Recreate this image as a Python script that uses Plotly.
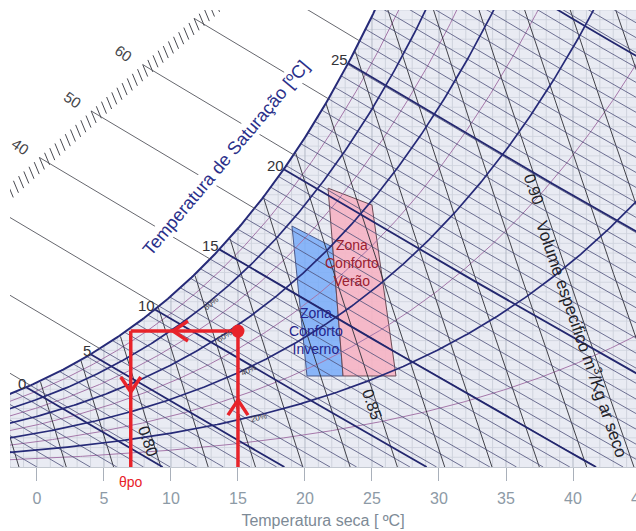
import numpy as np
import plotly.graph_objects as go

# ---------------- data (levels, labels, positions) ----------------
x_ticks = [0, 5, 10, 15, 20, 25, 30, 35, 40, 45]
rh_major = [0.2, 0.4, 0.6, 0.8]
rh_minor = [0.1, 0.3, 0.5, 0.7, 0.9]
rh_label_text = ["20%", "40%", "60%", "80%"]
rh_label_T = [16.6, 15.8, 14.0, 13.0]
sat_temps = [0, 5, 10, 15, 20, 25, 30, 35]          # thick saturation-temperature lines
sat_label_temps = [0, 5, 10, 15, 20, 25]
h_thin = list(range(-4, 114, 2))                      # enthalpy lines kJ/kg
h_ext = [10, 20, 30, 40, 50, 60, 70, 80]              # extension lines to the oblique scale
h_scale_ticks = list(range(28, 80))
h_scale_labels = [40, 50, 60]
scale_T = [0.22, 12.16]                                # oblique scale base line
scale_W = [15.94, 23.34]
vol_levels = [0.77, 0.78, 0.79, 0.80, 0.81, 0.82, 0.83, 0.84, 0.85,
              0.86, 0.87, 0.88, 0.89, 0.90, 0.91, 0.92, 0.93]
vol_label_text = ["0.80", "0.85", "0.90"]
vol_label_v = [0.80, 0.85, 0.90]
vol_label_W = [1.3, 3.2, 14.3]
vol_title_W = 6.6
summer_T = [21.72, 25.0, 26.79, 22.84]
summer_W = [14.34, 13.47, 4.68, 4.68]
winter_T = [19.03, 22.07, 22.84, 20.15]
winter_W = [12.39, 11.31, 4.68, 4.68]
summer_label = (23.5, 10.5)
winter_label = (20.8, 6.99)
state_T, state_W = 15.0, 6.99
dew_T = 7.0
arrow_up = (15.0, 3.44)
arrow_left = (10.15, 6.99)
arrow_down = (7.0, 3.86)

# ---------------- layout constants ----------------
W_PX, H_PX = 636, 531
ML, MR, MT, MB = 10, 0, 10, 64
XR = [-2.01, 44.7]
YR = [0.0, 23.5]
px_T = (W_PX - ML - MR) / (XR[1] - XR[0])
px_W = (H_PX - MT - MB) / (YR[1] - YR[0])
P_CHART = 88.0
P_STD = 101.325
FONT = "Liberation Sans, Arial, sans-serif"


def p_ws(T):
    return 0.61094 * np.exp(17.625 * T / (T + 243.04))


def w_rh(T, rh, P=P_CHART):
    p = rh * p_ws(T)
    return 622.0 * p / (P - p)


def w_sat(T, P=P_CHART):
    return w_rh(T, 1.0, P)


def h_of(T, W):
    return 1.006 * T + W / 1000.0 * (2501 + 1.86 * T)


def w_h(T, h):
    return 1000.0 * (h - 1.006 * T) / (2501 + 1.86 * T)


def T_of_v(v, W):
    return v * P_STD / (0.287042 * (1 + 1.6078 * W / 1000.0)) - 273.15


Tg = np.linspace(-20, 50, 7001)
hs_g = h_of(Tg, w_sat(Tg))
ws_g = w_sat(Tg)


def T_sat_h(h):
    return float(np.interp(h, hs_g, Tg))


def T_dew(W):
    return float(np.interp(W, ws_g, Tg))


def base_W(T):
    s = (scale_W[1] - scale_W[0]) / (scale_T[1] - scale_T[0])
    return scale_W[0] + s * (T - scale_T[0])


def T_base_h(h):
    d = w_h(Tg, h) - base_W(Tg)
    return float(np.interp(0.0, d[::-1], Tg[::-1]))


def join(segs):
    xs, ys = [], []
    for sx, sy in segs:
        xs += list(sx) + [None]
        ys += list(sy) + [None]
    return xs, ys


fig = go.Figure()


def add_lines(segs, color, width, dash=None):
    xs, ys = join(segs)
    fig.add_trace(go.Scatter(x=xs, y=ys, mode="lines", hoverinfo="skip",
                             line=dict(color=color, width=width, dash=dash),
                             showlegend=False))


# background region under the saturation curve
Tf = np.linspace(XR[0] - 0.2, XR[1] + 0.2, 400)
Wf = np.minimum(w_sat(Tf), YR[1] + 0.2)
fig.add_trace(go.Scatter(x=list(Tf) + [Tf[-1], Tf[0]], y=list(Wf) + [0, 0],
                         fill="toself", fillcolor="#e9ebf3", mode="none",
                         hoverinfo="skip", showlegend=False))

# grid
minor_v, major_v = [], []
for T in range(-2, 45):
    seg = ([T, T], [0, float(w_sat(T))])
    (major_v if T % 5 == 0 else minor_v).append(seg)
hor = []
for k in range(1, 48):
    W = 0.5 * k
    hor.append(([T_dew(W), XR[1] + 1], [W, W]))
add_lines(hor, "#d3d7e1", 1)
add_lines(minor_v, "#cfd3dd", 1)
add_lines(major_v, "#b3b9c6", 1)

# comfort zones
fig.add_trace(go.Scatter(x=winter_T + [winter_T[0]], y=winter_W + [winter_W[0]],
                         fill="toself", fillcolor="rgba(120,172,248,0.85)", mode="lines",
                         line=dict(color="#4a5a8a", width=1), hoverinfo="skip", showlegend=False))
fig.add_trace(go.Scatter(x=summer_T + [summer_T[0]], y=summer_W + [summer_W[0]],
                         fill="toself", fillcolor="rgba(246,180,196,0.9)", mode="lines",
                         line=dict(color="#6a4a55", width=1), hoverinfo="skip", showlegend=False))

Tl = np.linspace(XR[0] - 0.5, XR[1] + 0.5, 300)
# minor RH curves
add_lines([(Tl, w_rh(Tl, r)) for r in rh_minor], "#a577aa", 1)

# specific volume lines
vol_segs = []
Wv = np.linspace(0, 26, 400)
for v in vol_levels:
    Tv = T_of_v(v, Wv)
    ok = Wv <= w_sat(Tv)
    idx = np.argmax(~ok) if (~ok).any() else len(Wv)
    if idx > 0:
        vol_segs.append((Tv[:idx], Wv[:idx]))
add_lines(vol_segs, "#2e2e36", 0.9)

# thin enthalpy lines
hseg = []
for h in h_thin:
    t0 = T_sat_h(h)
    t1 = h / 1.006
    tt = np.linspace(t0, t1, 25)
    hseg.append((tt, w_h(tt, h)))
add_lines(hseg, "#4c4f78", 0.8)

# thick saturation temperature lines
tseg = []
h_thick = [float(h_of(T, w_sat(T, P_STD))) for T in sat_temps]
for h in h_thick:
    t0 = T_sat_h(h)
    tt = np.linspace(t0, h / 1.006, 25)
    tseg.append((tt, w_h(tt, h)))
add_lines(tseg, "#22266e", 1.8)

# major RH curves and saturation curve
add_lines([(Tl, w_rh(Tl, r)) for r in rh_major], "#262a78", 1.7)
add_lines([(Tl, w_sat(Tl))], "#262a78", 2)

# extension lines to the oblique scale
eseg = []
for h in h_ext:
    tb = T_base_h(h)
    ts = T_sat_h(h)
    tt = np.linspace(tb, ts, 30)
    eseg.append((tt, w_h(tt, h)))
add_lines(eseg, "#55565e", 0.9)

# scale ticks
tk = []
for h in h_scale_ticks:
    tb = T_base_h(h)
    wb = float(w_h(tb, h))
    tk.append(([tb, tb + 5 / px_T], [wb, wb - 12 / px_W]))
add_lines(tk, "#4a4b52", 1)

# red construction
RED = "#e8232a"
add_lines([([state_T, state_T], [0, state_W]),
           ([state_T, dew_T], [state_W, state_W]),
           ([dew_T, dew_T], [state_W, 0])], RED, 3.5)


def chevron(apex, d):
    back, lat = 15.0, 10.0
    dx, dy = d
    px_, py_ = -dy, dx
    pts = []
    for s in (1, -1):
        ux = -back * dx + s * lat * px_
        uy = -back * dy + s * lat * py_
        pts.append((apex[0] + ux / px_T, apex[1] + uy / px_W))
    return ([pts[0][0], apex[0], pts[1][0]], [pts[0][1], apex[1], pts[1][1]])


add_lines([chevron(arrow_up, (0, 1)), chevron(arrow_left, (-1, 0)),
           chevron(arrow_down, (0, -1))], RED, 3.5)
fig.add_trace(go.Scatter(x=[state_T], y=[state_W], mode="markers",
                         marker=dict(color=RED, size=13), hoverinfo="skip", showlegend=False))

ann = []
# saturation temperature labels
for T, h in zip(sat_temps, h_thick):
    if T in sat_label_temps:
        ts = T_sat_h(h)
        ann.append(dict(x=ts, y=float(w_sat(ts)), text=str(T), showarrow=False,
                        xanchor="right", yanchor="middle", xshift=2, yshift=4,
                        font=dict(size=15, color="#333338", family=FONT)))
# enthalpy scale labels
for h in h_scale_labels:
    tb = T_base_h(h)
    ann.append(dict(x=tb, y=float(w_h(tb, h)), text=str(h), showarrow=False,
                    xshift=-19, yshift=11, textangle=35,
                    font=dict(size=15, color="#444448", family=FONT)))
# RH labels
for txt, r, T in zip(rh_label_text, rh_major, rh_label_T):
    w0 = float(w_rh(T, r))
    slope = float(w_rh(T + 0.1, r) - w_rh(T - 0.1, r)) / 0.2
    ang = -np.degrees(np.arctan(slope * px_W / px_T))
    ann.append(dict(x=T, y=w0, text=txt, showarrow=False, textangle=ang, yshift=-3,
                    font=dict(size=8, color="#3a3a44", family=FONT)))
# volume labels
for txt, v, W in zip(vol_label_text, vol_label_v, vol_label_W):
    ann.append(dict(x=float(T_of_v(v, W)), y=W, text=txt, showarrow=False,
                    textangle=71, xshift=-5,
                    font=dict(size=16, color="#222228", family=FONT)))
ann.append(dict(x=float(T_of_v(0.90, vol_title_W)), y=vol_title_W,
                text="Volume especifico m<sup>3</sup>/Kg ar seco", showarrow=False,
                textangle=71, xshift=-6,
                font=dict(size=17, color="#222228", family=FONT)))
# saturation title
ann.append(dict(x=14.1, y=15.9, text="Temperatura de Saturação [ºC]", showarrow=False,
                textangle=-50, bgcolor="white", borderpad=0,
                font=dict(size=18, color="#2a2f8a", family=FONT)))
# comfort zone labels
ann.append(dict(x=summer_label[0], y=summer_label[1], text="Zona<br>Conforto<br>Verão",
                showarrow=False, font=dict(size=14, color="#9a2030", family=FONT)))
ann.append(dict(x=winter_label[0], y=winter_label[1], text="Zona<br>Conforto<br>Inverno",
                showarrow=False, font=dict(size=14, color="#24248c", family=FONT)))
# dew point label
ann.append(dict(x=dew_T, y=0, text="θpo", showarrow=False, yanchor="top", yshift=-5,
                font=dict(size=14, color=RED, family=FONT)))
# partially visible last tick label (beyond the plotted range, paper coordinates)
ann.append(dict(xref="paper", yref="paper",
                x=(x_ticks[-1] - XR[0]) / (XR[1] - XR[0]), y=0,
                text=str(x_ticks[-1]), showarrow=False, xanchor="center",
                yanchor="top", yshift=-21,
                font=dict(size=16, color="#8d9aa6", family=FONT)))

fig.update_layout(
    width=W_PX, height=H_PX,
    margin=dict(l=ML, r=MR, t=MT, b=MB, autoexpand=False),
    paper_bgcolor="white", plot_bgcolor="white",
    showlegend=False,
    annotations=ann,
    font=dict(family=FONT),
    xaxis=dict(range=XR, showgrid=False, zeroline=False, tickvals=x_ticks,
               ticks="outside", ticklen=13, tickcolor="#a9b0ba", tickwidth=1,
               showline=True, linecolor="#c3c8d0", linewidth=1,
               ticklabelstandoff=4, automargin=False,
               tickfont=dict(size=16, color="#8d9aa6", family=FONT),
               title=dict(text="Temperatura seca [ ºC]", standoff=8,
                          font=dict(size=16, color="#7d8a96", family=FONT))),
    yaxis=dict(range=YR, visible=False, showgrid=False, zeroline=False),
)

fig.write_html("out.html", config={"displayModeBar": False},
               post_script="document.body.style.margin='0px';"
                           "document.body.style.overflow='hidden';")
